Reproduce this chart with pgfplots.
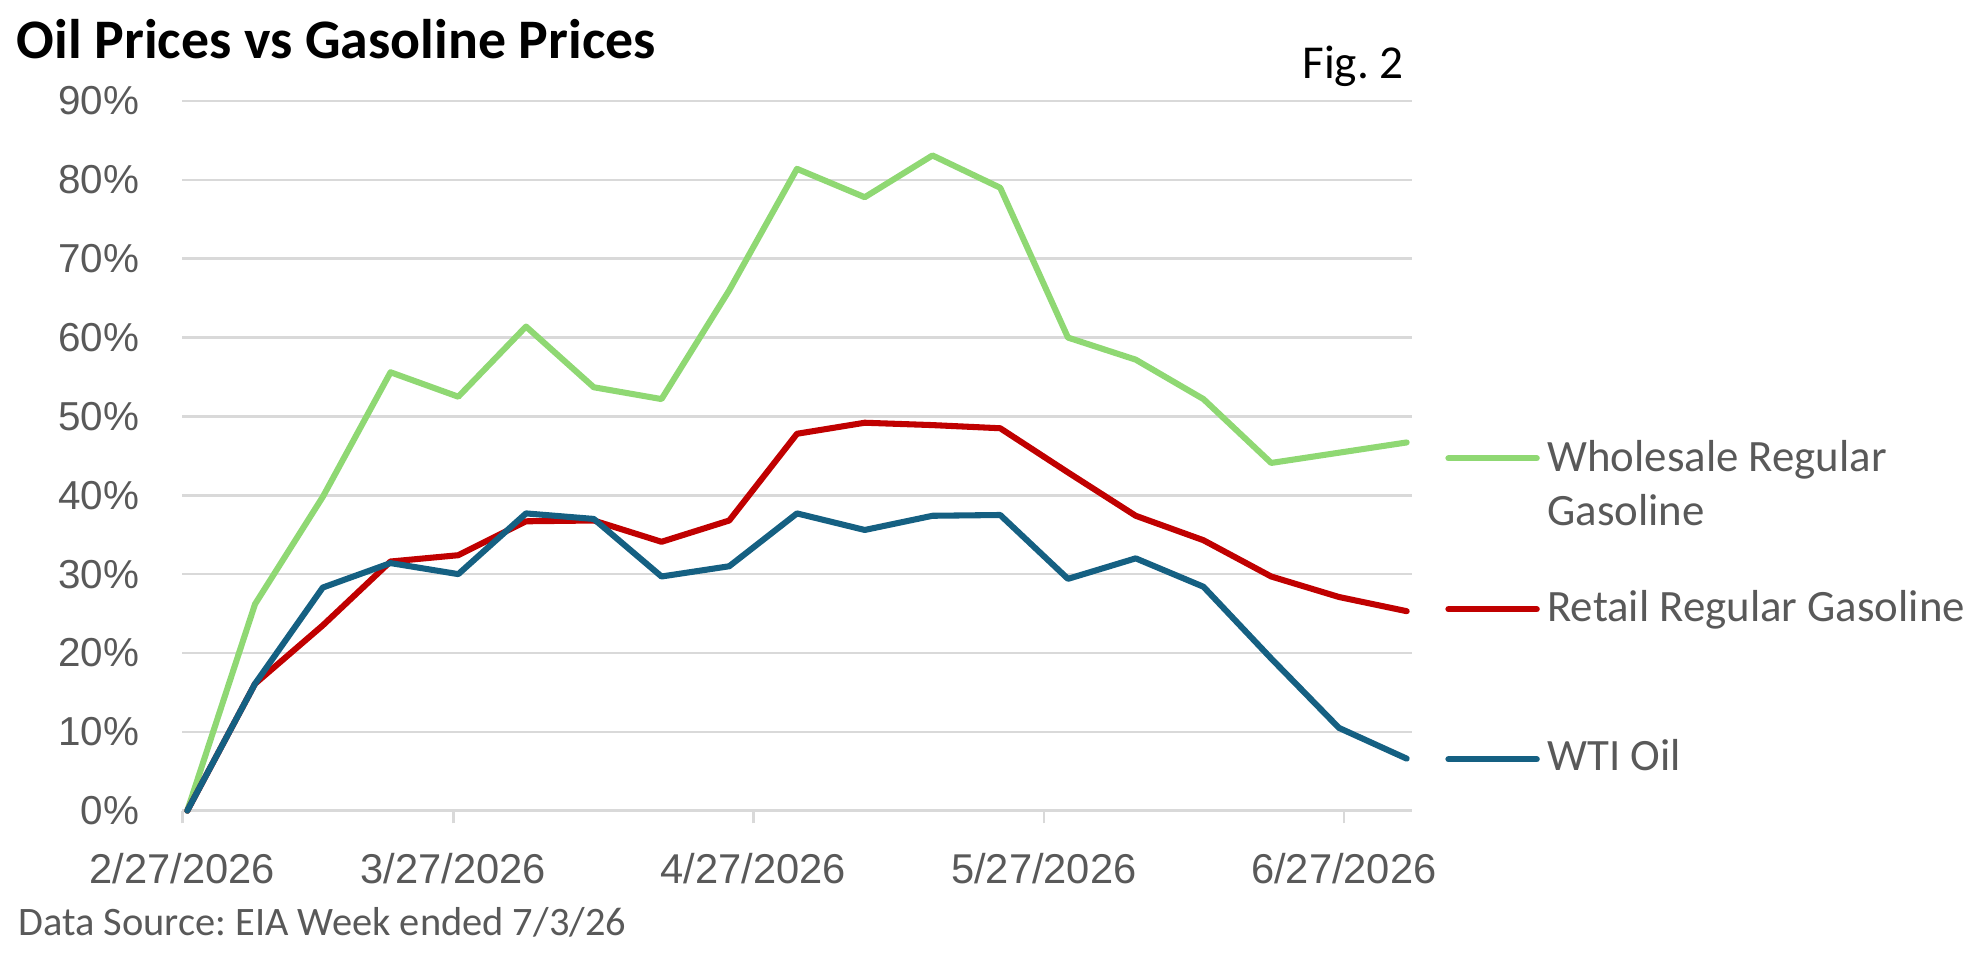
\documentclass[border=0pt]{standalone}
\usepackage{fontspec}
\setmainfont{Carlito}
\newfontfamily\ticksfont{Liberation Sans}
\usepackage{pgfplots}
\usepackage{pgfplotstable}
\pgfplotsset{compat=1.18}

\definecolor{wholesale}{HTML}{8FD873}
\definecolor{retail}{HTML}{C00000}
\definecolor{wti}{HTML}{156082}
\definecolor{gridgray}{HTML}{D9D9D9}
\definecolor{labelgray}{HTML}{595959}

% Cumulative change since the week ended 2/27/2026 (in %), one row per week;
% day = days after 2/27/2026, each week centred on its day
\pgfplotstableread{
day   wholesale retail wti
0.5    0.0   0.0   0.0
7.5   26.2  16.1  16.1
14.5  39.8  23.5  28.3
21.5  55.6  31.6  31.4
28.5  52.5  32.4  30.0
35.5  61.4  36.7  37.7
42.5  53.7  36.8  37.0
49.5  52.2  34.1  29.7
56.5  66.0  36.8  31.0
63.5  81.4  47.8  37.7
70.5  77.8  49.2  35.6
77.5  83.1  48.9  37.4
84.5  79.0  48.5  37.5
91.5  60.0  42.9  29.4
98.5  57.2  37.4  32.0
105.5 52.2  34.3  28.4
112.5 44.1  29.7  19.3
119.5 45.4  27.1  10.5
126.5 46.7  25.3   6.6
}\prices

\begin{document}
\frenchspacing
\begin{tikzpicture}[x=1pt,y=1pt]
\useasboundingbox (0,0) rectangle (784,379);
\begin{axis}[
  at={(72.25pt,58pt)}, anchor=south west,
  scale only axis, width=486.65pt, height=281pt,
  xmin=0, xmax=127, ymin=0, ymax=90,
  clip=false,
  axis line style={draw=none},
  xtick={0,28,59,89,120},
  xticklabels={2/27/2026,3/27/2026,4/27/2026,5/27/2026,6/27/2026},
  ytick={0,10,...,90},
  yticklabel={\pgfmathprintnumber{\tick}\%},
  /pgf/number format/assume math mode=true,
  ymajorgrids,
  grid style={gridgray, line width=1pt},
  xtick pos=bottom, ytick pos=left,
  tick align=outside,
  major tick length=5pt,
  xtick style={gridgray, line width=1pt},
  ytick style={draw=none},
  ticklabel style={font=\ticksfont\fontsize{16}{19}\selectfont, text=labelgray},
  xticklabel style={anchor=base, inner sep=0pt, yshift=-23.75pt, font=\ticksfont\fontsize{16.5}{19}\selectfont},
  yticklabel style={anchor=east, inner sep=0pt, xshift=-12pt},
  every axis plot/.append style={line width=2.4pt, line cap=round, line join=round},
]
\addplot[wholesale] table[x=day, y=wholesale] {\prices};
\addplot[retail]    table[x=day, y=retail]    {\prices};
\addplot[wti]       table[x=day, y=wti]       {\prices};
\end{axis}

% title and figure number
\node[anchor=base west, inner sep=0pt, font=\bfseries\fontsize{22.1}{26}\selectfont]
  at (6.5,356) {Oil Prices vs Gasoline Prices};
\node[anchor=base east, inner sep=0pt, font=\fontsize{18.7}{22}\selectfont]
  at (556,348) {Fig. 2};

% series key
\begin{scope}[line width=2.4pt, line cap=round]
  \draw[wholesale] (573.5,197.5) -- (608.5,197.5);
  \draw[retail]    (573.5,137.75) -- (608.5,137.75);
  \draw[wti]       (573.5,78.35) -- (608.5,78.35);
\end{scope}
\begin{scope}[every node/.style={anchor=base west, inner sep=0pt, text=labelgray,
    font=\fontsize{17.75}{21}\selectfont}]
  \node at (612.5,192.25) {Wholesale Regular};
  \node at (612.5,171.1)  {Gasoline};
  \node at (612.5,132.85) {Retail Regular Gasoline};
  \node at (612.5,73.85)  {WTI Oil};
\end{scope}

% source note
\node[anchor=base west, inner sep=0pt, text=labelgray, font=\fontsize{16}{19}\selectfont]
  at (7,8.5) {Data Source: EIA Week ended 7/3/26};
\end{tikzpicture}
\end{document}
